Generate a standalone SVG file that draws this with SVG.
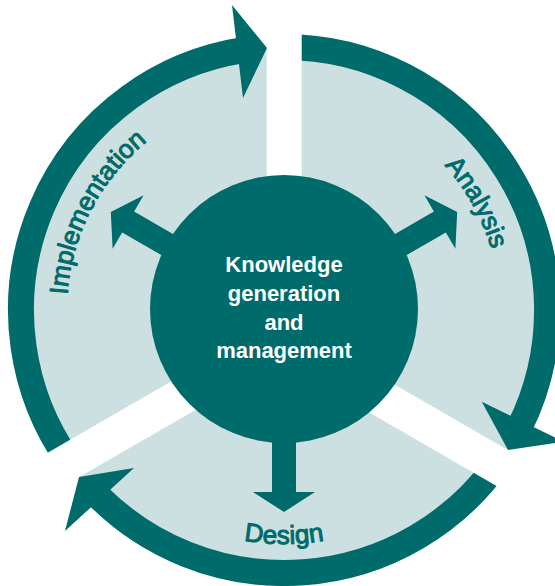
<svg xmlns="http://www.w3.org/2000/svg" width="555" height="586" viewBox="0 0 555 586">
  <defs>
    <style>
      .ring { fill: none; stroke: #006b6b; stroke-width: 26; }
      .dark { fill: #006b6b; }
      .gap { fill: #ffffff; }
      .label { font-family: "Liberation Sans", Arial, sans-serif; font-size: 26px; fill: #006b6b; stroke: #006b6b; stroke-width: 1; stroke-linejoin: round; }
      .center { font-family: "Liberation Sans", Arial, sans-serif; font-size: 22px; font-weight: bold; fill: #ffffff; text-anchor: middle; }
    </style>
    <path id="pImpl" d="M67.5,294.9 A217,217 0 0 1 246.3,96.3"/>
    <path id="pAna" d="M444.5,165.5 A216,216 0 0 1 500,310"/>
    <path id="pDes" d="M167,512.6 A233.5,233.5 0 0 0 401,512.6"/>
    <path id="arrowDown" d="M-12,0 V180 H-31 L0,200 L31,180 H12 V0 Z"/>
  </defs>
  <rect width="555" height="586" fill="#ffffff"/>

  <g id="background">
    <circle cx="284" cy="310" r="263" fill="#cde0e1"/>
  </g>

  <g id="connectors">
    <path id="arc-implementation" class="ring" d="M68.6,460.9 A263,263 0 0 1 242.9,50.2"/>
    <path id="arc-analysis" class="ring" d="M284,47 A263,263 0 0 1 519.4,427.4"/>
    <path id="arc-design" class="ring" d="M496.8,464.6 A263,263 0 0 1 96.4,494.3"/>
    <rect class="gap" x="266.7" y="-5" width="35" height="220"/>
    <polygon class="gap" points="300,329.9 600,503.1 600,545.6 300,372.4"/>
    <polygon class="gap" points="270,324.5 -20,491.9 -20,534.3 270,366.9"/>
    <polygon class="dark" points="232,5 267,48 243,98"/>
    <polygon class="dark" points="481.8,401.8 508,450 563.6,441.6"/>
    <polygon class="dark" points="134,468 79,477 65,531"/>
    <use href="#arrowDown" class="dark" transform="translate(284,312)"/>
    <use href="#arrowDown" class="dark" transform="translate(284,312) rotate(120)"/>
    <use href="#arrowDown" class="dark" transform="translate(284,312) rotate(-120)"/>
  </g>

  <g id="node-center">
    <circle cx="284" cy="309" r="134" class="dark"/>
    <text class="center" x="284" y="272">Knowledge</text>
    <text class="center" x="284" y="301">generation</text>
    <text class="center" x="284" y="330">and</text>
    <text class="center" x="284" y="358">management</text>
  </g>

  <g id="node-implementation">
    <text class="label"><textPath href="#pImpl">Implementation</textPath></text>
  </g>
  <g id="node-analysis">
    <text class="label"><textPath href="#pAna">Analysis</textPath></text>
  </g>
  <g id="node-design">
    <text class="label" text-anchor="middle"><textPath href="#pDes" startOffset="50%">Design</textPath></text>
  </g>
</svg>
